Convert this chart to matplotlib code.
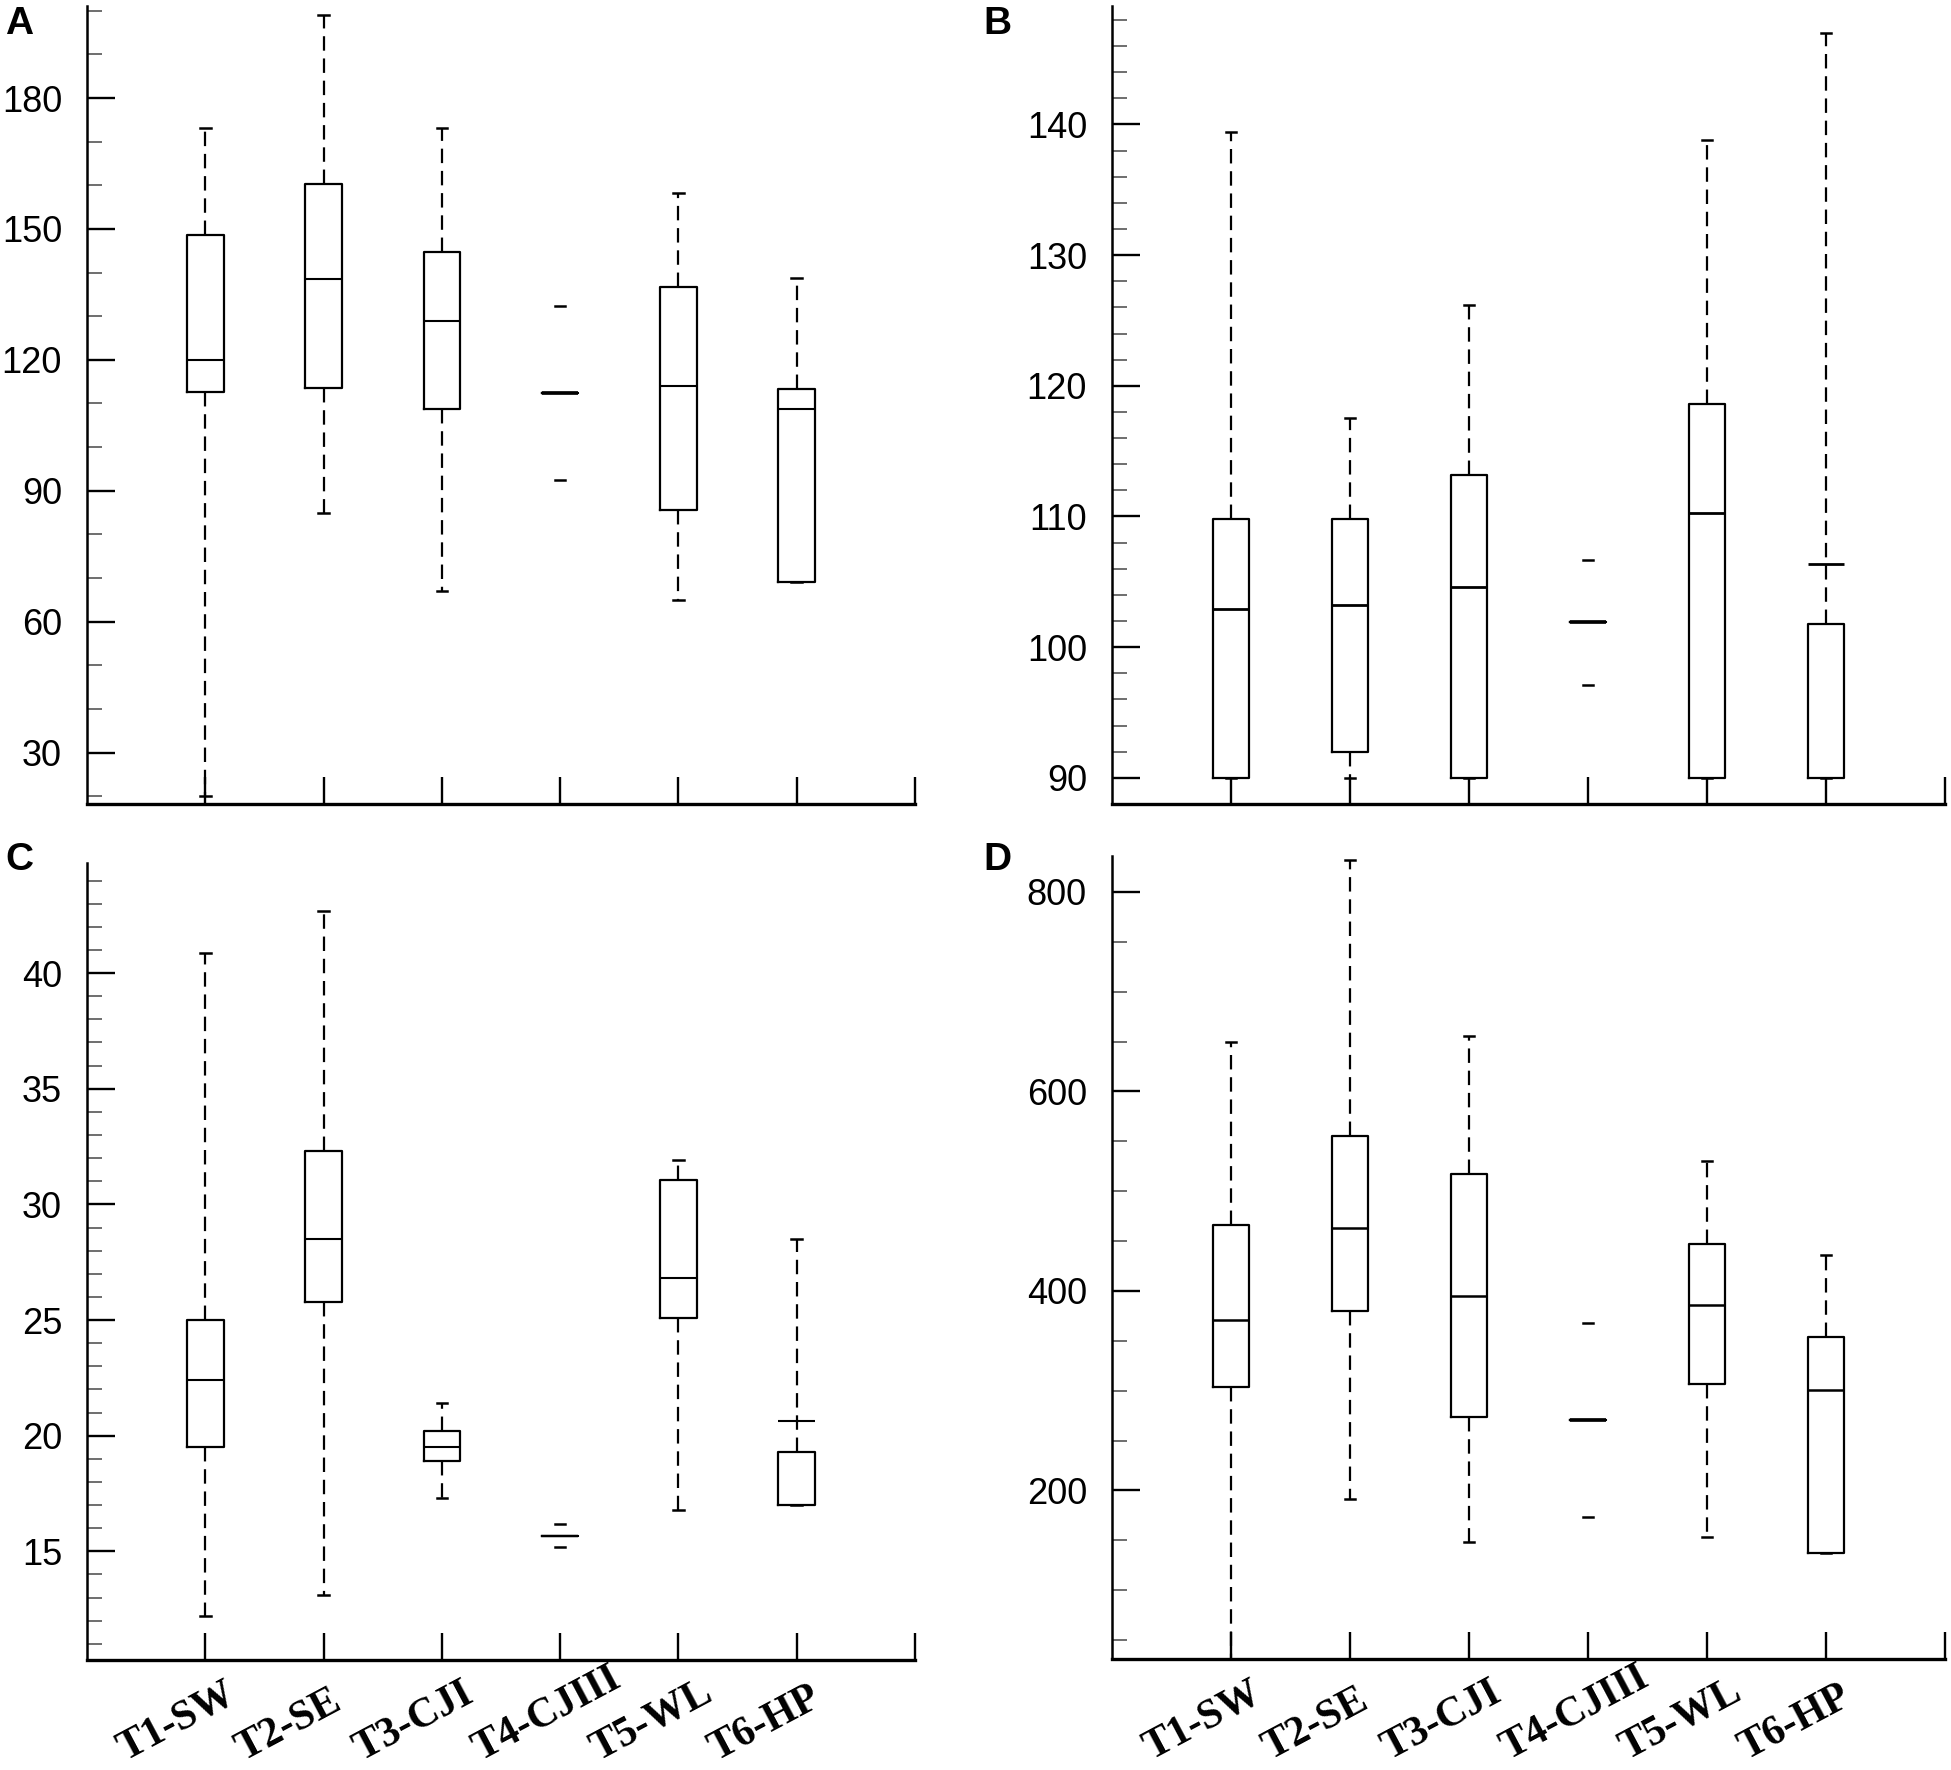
import matplotlib
matplotlib.use("Agg")
import matplotlib.pyplot as plt
import matplotlib.transforms as mtransforms
from matplotlib.ticker import FixedLocator

categories = ["T1-SW", "T2-SE", "T3-CJI", "T4-CJIII", "T5-WL", "T6-HP"]

# whislo, q1, med, q3, whishi per category
A_whislo = [20.0, 84.9, 67.1, 92.4, 65.0, 69.1]
A_q1     = [112.6, 113.5, 108.7, 112.4, 85.5, 69.1]
A_med    = [120.0, 138.5, 128.9, 112.4, 113.9, 108.8]
A_q3     = [148.6, 160.2, 144.8, 112.4, 136.7, 113.3]
A_whishi = [173.2, 199.0, 173.2, 132.4, 158.2, 138.8]

B_whislo = [90.0, 90.0, 90.0, 97.1, 90.0, 90.0]
B_q1     = [90.0, 92.0, 90.0, 101.9, 90.0, 90.0]
B_med    = [102.9, 103.2, 104.6, 101.9, 110.3, 106.4]
B_q3     = [109.8, 109.8, 113.2, 101.9, 118.6, 101.8]
B_whishi = [139.4, 117.5, 126.2, 106.7, 138.8, 147.0]

C_whislo = [12.2, 13.1, 17.3, 15.2, 16.8, 17.0]
C_q1     = [19.5, 25.8, 18.9, 15.65, 25.1, 17.0]
C_med    = [22.4, 28.5, 19.5, 15.65, 26.8, 20.64]
C_q3     = [25.0, 32.3, 20.2, 15.65, 31.07, 19.3]
C_whishi = [40.85, 42.67, 21.4, 16.2, 31.9, 28.5]

D_whislo = [31.0, 191.0, 147.8, 173.0, 153.2, 137.6]
D_q1     = [303.8, 379.4, 273.2, 270.2, 306.2, 137.6]
D_med    = [371.0, 462.8, 395.0, 270.2, 386.0, 300.8]
D_q3     = [465.8, 555.0, 516.8, 270.2, 447.2, 353.6]
D_whishi = [650.0, 832.0, 656.0, 368.0, 530.0, 436.4]

W, H = 1951, 1770
fig = plt.figure(figsize=(W / 100, H / 100), dpi=100)

panels = [
    dict(letter="A", rect=[87 / W, 1 - 804 / H, 828 / W, 798 / H], lo=A_whislo, q1=A_q1, med=A_med,
         q3=A_q3, hi=A_whishi, ylim=(18.2, 201.1), major=range(30, 181, 30),
         minor=range(20, 201, 10), labels=False, lpos=(5 / W, 1 - 6 / H), medlw=1.5),
    dict(letter="B", rect=[1112 / W, 1 - 804 / H, 833 / W, 798 / H], lo=B_whislo, q1=B_q1, med=B_med,
         q3=B_q3, hi=B_whishi, ylim=(88.0, 149.06), major=range(90, 141, 10),
         minor=range(90, 149, 2), labels=False, lpos=(983 / W, 1 - 6 / H), medlw=2.0),
    dict(letter="C", rect=[87 / W, 1 - 1660 / H, 828 / W, 797 / H], lo=C_whislo, q1=C_q1, med=C_med,
         q3=C_q3, hi=C_whishi, ylim=(10.3, 44.76), major=range(15, 41, 5),
         minor=range(11, 45, 1), labels=True, lpos=(5 / W, 1 - 842 / H), medlw=1.5),
    dict(letter="D", rect=[1112 / W, 1 - 1659 / H, 833 / W, 803 / H], lo=D_whislo, q1=D_q1, med=D_med,
         q3=D_q3, hi=D_whishi, ylim=(31.0, 836.0), major=range(200, 801, 200),
         minor=range(50, 801, 50), labels=True, lpos=(983 / W, 1 - 842 / H), medlw=1.8),
]

positions = list(range(1, len(categories) + 1))

for p in panels:
    ax = fig.add_axes(p["rect"])
    stats = []
    for i, cat in enumerate(categories):
        stats.append(dict(label=cat, whislo=p["lo"][i], q1=p["q1"][i], med=p["med"][i],
                          q3=p["q3"][i], whishi=p["hi"][i], fliers=[]))
    res = ax.bxp(stats, positions=positions, widths=0.31, capwidths=0.09,
                 showfliers=False, manage_ticks=False,
                 boxprops=dict(color="black", linewidth=1.6),
                 medianprops=dict(color="black", linewidth=p["medlw"]),
                 whiskerprops=dict(color="black", linewidth=1.6, linestyle=(0, (6.5, 3.5))),
                 capprops=dict(color="black", linewidth=1.8))
    # T4 has no drawn whisker lines, only caps and median
    res["whiskers"][6].set_visible(False)
    res["whiskers"][7].set_visible(False)
    if p["letter"] != "C":
        res["medians"][3].set_linewidth(2.6)

    ax.set_xlim(0, 7)
    ax.set_ylim(*p["ylim"])
    for s in ["top", "right"]:
        ax.spines[s].set_visible(False)
    ax.spines["left"].set_linewidth(1.8)
    ax.spines["bottom"].set_linewidth(2.4)

    ax.xaxis.set_major_locator(FixedLocator(positions + [7]))
    ax.yaxis.set_major_locator(FixedLocator(list(p["major"])))
    ax.yaxis.set_minor_locator(FixedLocator(list(p["minor"])))
    ax.tick_params(axis="x", direction="in", length=19.5, width=1.7, pad=0)
    ax.tick_params(axis="y", which="major", direction="in", length=20, width=1.7,
                   pad=18, labelsize=26)
    ax.tick_params(axis="y", which="minor", direction="in", length=11, width=1.2,
                   color="#555555")
    for lab in ax.get_yticklabels():
        lab.set_fontfamily("Liberation Sans")

    if p["labels"]:
        ax.set_xticklabels(categories + [""], rotation=28, ha="left", va="baseline",
                           rotation_mode="anchor",
                           fontfamily="Liberation Serif", fontweight="bold", fontsize=30)
        offset = mtransforms.ScaledTranslation(-0.80, -1.01, fig.dpi_scale_trans)
        for lab in ax.get_xticklabels():
            lab.set_transform(lab.get_transform() + offset)
    else:
        ax.set_xticklabels([])

    fig.text(p["lpos"][0], p["lpos"][1], p["letter"], fontsize=28, fontfamily="Liberation Sans",
             fontweight="bold", va="top", ha="left")

fig.savefig("out.png", dpi=100, facecolor="white")
